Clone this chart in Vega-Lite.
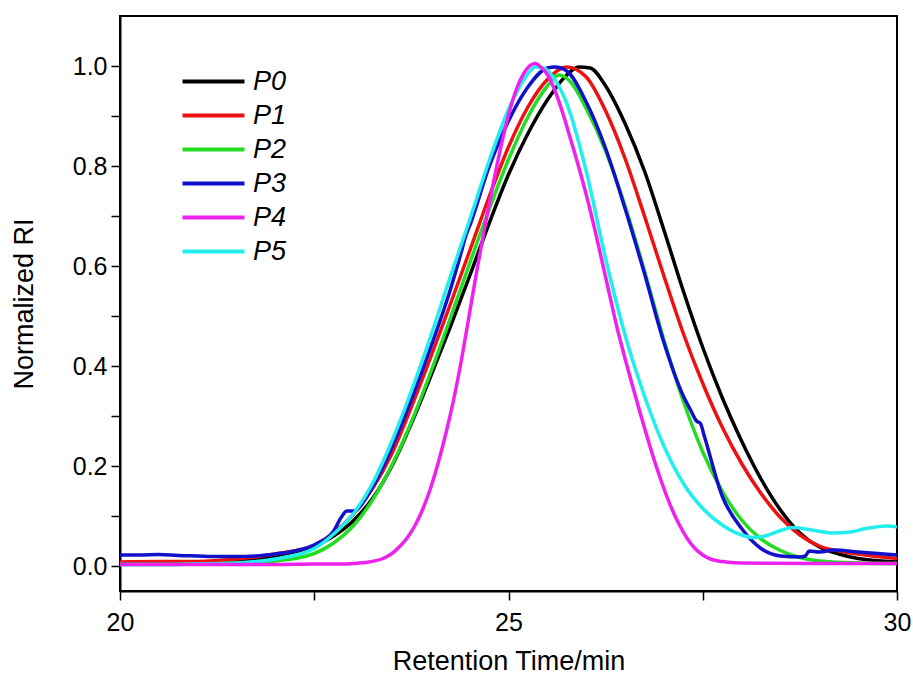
{
  "$schema": "https://vega.github.io/schema/vega-lite/v6.json",
  "width": 777,
  "height": 575,
  "autosize": {"type": "none"},
  "padding": {"left": 120, "top": 16, "right": 16, "bottom": 87},
  "background": "white",
  "config": {
    "font": "Liberation Sans",
    "view": {"stroke": "black", "strokeWidth": 2}
  },
  "data": {"values": [
    {"s":"P0","t":20,"v":0.005},{"s":"P0","t":20.5,"v":0.005},{"s":"P0","t":21,"v":0.006},{"s":"P0","t":21.5,"v":0.010},{"s":"P0","t":22,"v":0.020},{"s":"P0","t":22.5,"v":0.040},{"s":"P0","t":22.75,"v":0.060},{"s":"P0","t":23,"v":0.090},{"s":"P0","t":23.25,"v":0.135},{"s":"P0","t":23.5,"v":0.200},{"s":"P0","t":23.75,"v":0.285},{"s":"P0","t":24,"v":0.380},{"s":"P0","t":24.25,"v":0.478},{"s":"P0","t":24.5,"v":0.580},{"s":"P0","t":24.75,"v":0.685},{"s":"P0","t":25,"v":0.783},{"s":"P0","t":25.25,"v":0.865},{"s":"P0","t":25.5,"v":0.932},{"s":"P0","t":25.75,"v":0.982},{"s":"P0","t":25.9,"v":0.998},{"s":"P0","t":26.05,"v":0.996},{"s":"P0","t":26.25,"v":0.960},{"s":"P0","t":26.5,"v":0.885},{"s":"P0","t":26.75,"v":0.790},{"s":"P0","t":27,"v":0.672},{"s":"P0","t":27.25,"v":0.550},{"s":"P0","t":27.5,"v":0.437},{"s":"P0","t":27.75,"v":0.337},{"s":"P0","t":28,"v":0.250},{"s":"P0","t":28.25,"v":0.174},{"s":"P0","t":28.5,"v":0.112},{"s":"P0","t":28.75,"v":0.066},{"s":"P0","t":29,"v":0.038},{"s":"P0","t":29.25,"v":0.024},{"s":"P0","t":29.5,"v":0.015},{"s":"P0","t":30,"v":0.008},
    {"s":"P1","t":20,"v":0.008},{"s":"P1","t":20.5,"v":0.009},{"s":"P1","t":21,"v":0.009},{"s":"P1","t":21.5,"v":0.014},{"s":"P1","t":22,"v":0.024},{"s":"P1","t":22.5,"v":0.042},{"s":"P1","t":22.75,"v":0.066},{"s":"P1","t":23,"v":0.103},{"s":"P1","t":23.25,"v":0.155},{"s":"P1","t":23.5,"v":0.225},{"s":"P1","t":23.75,"v":0.318},{"s":"P1","t":24,"v":0.418},{"s":"P1","t":24.25,"v":0.523},{"s":"P1","t":24.5,"v":0.630},{"s":"P1","t":24.75,"v":0.738},{"s":"P1","t":25,"v":0.838},{"s":"P1","t":25.25,"v":0.918},{"s":"P1","t":25.5,"v":0.973},{"s":"P1","t":25.75,"v":0.998},{"s":"P1","t":26,"v":0.978},{"s":"P1","t":26.25,"v":0.910},{"s":"P1","t":26.5,"v":0.815},{"s":"P1","t":26.75,"v":0.700},{"s":"P1","t":27,"v":0.580},{"s":"P1","t":27.25,"v":0.465},{"s":"P1","t":27.5,"v":0.365},{"s":"P1","t":27.75,"v":0.278},{"s":"P1","t":28,"v":0.205},{"s":"P1","t":28.25,"v":0.145},{"s":"P1","t":28.5,"v":0.097},{"s":"P1","t":28.75,"v":0.062},{"s":"P1","t":29,"v":0.040},{"s":"P1","t":29.5,"v":0.024},{"s":"P1","t":30,"v":0.015},
    {"s":"P2","t":20,"v":0.003},{"s":"P2","t":20.5,"v":0.003},{"s":"P2","t":21,"v":0.004},{"s":"P2","t":21.5,"v":0.006},{"s":"P2","t":22,"v":0.010},{"s":"P2","t":22.5,"v":0.025},{"s":"P2","t":22.75,"v":0.046},{"s":"P2","t":23,"v":0.080},{"s":"P2","t":23.25,"v":0.132},{"s":"P2","t":23.5,"v":0.202},{"s":"P2","t":23.75,"v":0.288},{"s":"P2","t":24,"v":0.388},{"s":"P2","t":24.25,"v":0.495},{"s":"P2","t":24.5,"v":0.605},{"s":"P2","t":24.75,"v":0.713},{"s":"P2","t":25,"v":0.813},{"s":"P2","t":25.25,"v":0.898},{"s":"P2","t":25.5,"v":0.960},{"s":"P2","t":25.65,"v":0.982},{"s":"P2","t":25.8,"v":0.968},{"s":"P2","t":26,"v":0.915},{"s":"P2","t":26.25,"v":0.830},{"s":"P2","t":26.5,"v":0.720},{"s":"P2","t":26.75,"v":0.590},{"s":"P2","t":27,"v":0.452},{"s":"P2","t":27.25,"v":0.330},{"s":"P2","t":27.5,"v":0.228},{"s":"P2","t":27.75,"v":0.150},{"s":"P2","t":28,"v":0.092},{"s":"P2","t":28.25,"v":0.054},{"s":"P2","t":28.5,"v":0.031},{"s":"P2","t":28.75,"v":0.017},{"s":"P2","t":29,"v":0.010},{"s":"P2","t":29.5,"v":0.006},{"s":"P2","t":30,"v":0.005},
    {"s":"P3","t":20,"v":0.022},{"s":"P3","t":20.25,"v":0.022},{"s":"P3","t":20.5,"v":0.023},{"s":"P3","t":20.75,"v":0.021},{"s":"P3","t":21,"v":0.020},{"s":"P3","t":21.25,"v":0.019},{"s":"P3","t":21.5,"v":0.019},{"s":"P3","t":21.75,"v":0.020},{"s":"P3","t":22,"v":0.024},{"s":"P3","t":22.25,"v":0.030},{"s":"P3","t":22.5,"v":0.042},{"s":"P3","t":22.75,"v":0.070},{"s":"P3","t":22.85,"v":0.098},{"s":"P3","t":22.92,"v":0.110},{"s":"P3","t":23,"v":0.110},{"s":"P3","t":23.25,"v":0.158},{"s":"P3","t":23.5,"v":0.238},{"s":"P3","t":23.75,"v":0.333},{"s":"P3","t":24,"v":0.438},{"s":"P3","t":24.25,"v":0.552},{"s":"P3","t":24.4,"v":0.632},{"s":"P3","t":24.45,"v":0.660},{"s":"P3","t":24.5,"v":0.680},{"s":"P3","t":24.75,"v":0.798},{"s":"P3","t":25,"v":0.890},{"s":"P3","t":25.25,"v":0.958},{"s":"P3","t":25.5,"v":0.996},{"s":"P3","t":25.6,"v":0.998},{"s":"P3","t":25.75,"v":0.990},{"s":"P3","t":26,"v":0.928},{"s":"P3","t":26.25,"v":0.835},{"s":"P3","t":26.5,"v":0.715},{"s":"P3","t":26.75,"v":0.585},{"s":"P3","t":27,"v":0.447},{"s":"P3","t":27.25,"v":0.340},{"s":"P3","t":27.35,"v":0.310},{"s":"P3","t":27.42,"v":0.290},{"s":"P3","t":27.47,"v":0.285},{"s":"P3","t":27.52,"v":0.260},{"s":"P3","t":27.75,"v":0.140},{"s":"P3","t":28,"v":0.075},{"s":"P3","t":28.25,"v":0.035},{"s":"P3","t":28.5,"v":0.020},{"s":"P3","t":28.75,"v":0.018},{"s":"P3","t":28.82,"v":0.020},{"s":"P3","t":28.87,"v":0.030},{"s":"P3","t":29,"v":0.028},{"s":"P3","t":29.2,"v":0.032},{"s":"P3","t":29.5,"v":0.028},{"s":"P3","t":30,"v":0.022},
    {"s":"P5","t":20,"v":0.003},{"s":"P5","t":20.5,"v":0.003},{"s":"P5","t":21,"v":0.004},{"s":"P5","t":21.5,"v":0.006},{"s":"P5","t":22,"v":0.014},{"s":"P5","t":22.5,"v":0.035},{"s":"P5","t":22.75,"v":0.064},{"s":"P5","t":23,"v":0.104},{"s":"P5","t":23.25,"v":0.165},{"s":"P5","t":23.5,"v":0.250},{"s":"P5","t":23.75,"v":0.350},{"s":"P5","t":24,"v":0.460},{"s":"P5","t":24.25,"v":0.578},{"s":"P5","t":24.5,"v":0.692},{"s":"P5","t":24.75,"v":0.810},{"s":"P5","t":25,"v":0.913},{"s":"P5","t":25.2,"v":0.973},{"s":"P5","t":25.35,"v":0.998},{"s":"P5","t":25.45,"v":0.996},{"s":"P5","t":25.6,"v":0.972},{"s":"P5","t":25.75,"v":0.925},{"s":"P5","t":26,"v":0.790},{"s":"P5","t":26.25,"v":0.615},{"s":"P5","t":26.5,"v":0.462},{"s":"P5","t":26.75,"v":0.340},{"s":"P5","t":27,"v":0.240},{"s":"P5","t":27.25,"v":0.165},{"s":"P5","t":27.5,"v":0.115},{"s":"P5","t":27.75,"v":0.082},{"s":"P5","t":28,"v":0.062},{"s":"P5","t":28.15,"v":0.057},{"s":"P5","t":28.3,"v":0.060},{"s":"P5","t":28.5,"v":0.071},{"s":"P5","t":28.66,"v":0.077},{"s":"P5","t":28.9,"v":0.072},{"s":"P5","t":29.18,"v":0.066},{"s":"P5","t":29.4,"v":0.068},{"s":"P5","t":29.6,"v":0.075},{"s":"P5","t":29.87,"v":0.080},{"s":"P5","t":30,"v":0.078},
    {"s":"P4","t":20,"v":0.003},{"s":"P4","t":21,"v":0.003},{"s":"P4","t":22,"v":0.003},{"s":"P4","t":22.5,"v":0.004},{"s":"P4","t":22.8,"v":0.004},{"s":"P4","t":23,"v":0.005},{"s":"P4","t":23.2,"v":0.008},{"s":"P4","t":23.4,"v":0.016},{"s":"P4","t":23.5,"v":0.025},{"s":"P4","t":23.6,"v":0.039},{"s":"P4","t":23.7,"v":0.057},{"s":"P4","t":23.8,"v":0.082},{"s":"P4","t":23.9,"v":0.115},{"s":"P4","t":24,"v":0.157},{"s":"P4","t":24.1,"v":0.209},{"s":"P4","t":24.2,"v":0.269},{"s":"P4","t":24.3,"v":0.337},{"s":"P4","t":24.4,"v":0.417},{"s":"P4","t":24.5,"v":0.507},{"s":"P4","t":24.6,"v":0.597},{"s":"P4","t":24.7,"v":0.682},{"s":"P4","t":24.8,"v":0.762},{"s":"P4","t":24.9,"v":0.837},{"s":"P4","t":25,"v":0.902},{"s":"P4","t":25.1,"v":0.953},{"s":"P4","t":25.2,"v":0.986},{"s":"P4","t":25.3,"v":1.003},{"s":"P4","t":25.35,"v":1.005},{"s":"P4","t":25.4,"v":1.0},{"s":"P4","t":25.5,"v":0.983},{"s":"P4","t":25.6,"v":0.950},{"s":"P4","t":25.7,"v":0.905},{"s":"P4","t":25.8,"v":0.853},{"s":"P4","t":25.9,"v":0.800},{"s":"P4","t":26,"v":0.743},{"s":"P4","t":26.1,"v":0.680},{"s":"P4","t":26.2,"v":0.612},{"s":"P4","t":26.3,"v":0.543},{"s":"P4","t":26.4,"v":0.475},{"s":"P4","t":26.5,"v":0.415},{"s":"P4","t":26.6,"v":0.358},{"s":"P4","t":26.7,"v":0.303},{"s":"P4","t":26.8,"v":0.250},{"s":"P4","t":26.9,"v":0.200},{"s":"P4","t":27,"v":0.155},{"s":"P4","t":27.1,"v":0.115},{"s":"P4","t":27.2,"v":0.082},{"s":"P4","t":27.3,"v":0.055},{"s":"P4","t":27.4,"v":0.035},{"s":"P4","t":27.5,"v":0.022},{"s":"P4","t":27.6,"v":0.014},{"s":"P4","t":27.7,"v":0.010},{"s":"P4","t":27.8,"v":0.008},{"s":"P4","t":28,"v":0.006},{"s":"P4","t":29,"v":0.005},{"s":"P4","t":30,"v":0.005}
  ]},
  "mark": {"type": "line", "strokeWidth": 3.5, "interpolate": "monotone", "clip": true},
  "encoding": {
    "x": {"field": "t", "type": "quantitative",
      "scale": {"domain": [20, 30], "nice": false, "zero": false},
      "axis": {"title": "Retention Time/min", "values": [20, 22.5, 25, 27.5, 30],
        "labelExpr": "datum.value % 5 == 0 ? format(datum.value, 'd') : ''",
        "grid": false, "domainColor": "black", "domainWidth": 2, "tickColor": "black", "tickWidth": 1.5, "tickSize": 9,
        "labelFontSize": 25, "labelColor": "black", "labelPadding": 10, "labelFlush": false,
        "titleFontSize": 27, "titleFontWeight": "normal", "titleColor": "black", "titlePadding": 13}},
    "y": {"field": "v", "type": "quantitative",
      "scale": {"domain": [-0.05, 1.1], "nice": false, "zero": false},
      "axis": {"title": "Normalized RI", "values": [0, 0.1, 0.2, 0.3, 0.4, 0.5, 0.6, 0.7, 0.8, 0.9, 1.0],
        "labelExpr": "round(datum.value * 10) % 2 == 0 ? format(datum.value, '.1f') : ''",
        "grid": false, "domainColor": "black", "domainWidth": 2, "tickColor": "black", "tickWidth": 1.5, "tickSize": 9,
        "labelFontSize": 25, "labelColor": "black", "labelPadding": 4,
        "titleFontSize": 27, "titleFontWeight": "normal", "titleColor": "black", "titlePadding": 34}},
    "color": {"field": "s", "type": "nominal",
      "scale": {"domain": ["P0", "P1", "P2", "P3", "P4", "P5"], "range": ["#000000", "#ee1111", "#22dd22", "#1111cc", "#ee22ee", "#22eeee"]},
      "legend": {"title": null, "orient": "none", "legendX": 80, "legendY": 52,
        "symbolType": "M-4,0H4", "symbolSize": 240, "symbolStrokeWidth": 4, "symbolFillColor": "transparent",
        "labelFontSize": 27, "labelFontStyle": "italic", "labelColor": "black", "labelOffset": 26,
        "rowPadding": 6, "padding": 0}}
  }
}
